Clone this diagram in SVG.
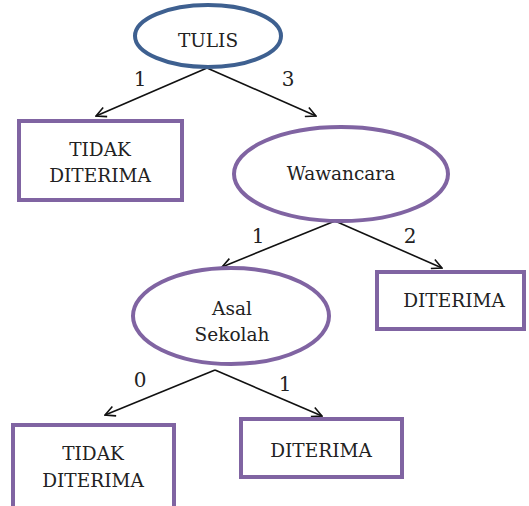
<svg xmlns="http://www.w3.org/2000/svg" width="529" height="506" viewBox="0 0 529 506">
<style>
.t{font-family:'DejaVu Serif',serif;font-size:18.5px;fill:#222;text-anchor:middle}
.l{font-size:20px}
.n{fill:#fff;stroke:#8064a2;stroke-width:4}
.e{stroke:#111;stroke-width:1.6;fill:none;marker-end:url(#ah)}
</style>
<defs>
<marker id="ah" viewBox="0 0 12 12" refX="11" refY="6" markerWidth="12" markerHeight="12" markerUnits="userSpaceOnUse" orient="auto">
<path d="M1 1 L11 6 L1 11" fill="none" stroke="#111" stroke-width="1.6"/>
</marker>
</defs>
<rect width="529" height="506" fill="#fff"/>
<g id="connectors">
<line class="e" x1="207" y1="68" x2="96" y2="116"/>
<line class="e" x1="207" y1="68" x2="316" y2="116"/>
<line class="e" x1="335" y1="221" x2="222" y2="267"/>
<line class="e" x1="335" y1="221" x2="442" y2="268"/>
<line class="e" x1="215" y1="370" x2="105" y2="415"/>
<line class="e" x1="215" y1="370" x2="322" y2="416"/>
<text class="t l" x="140" y="86">1</text>
<text class="t l" x="288" y="86">3</text>
<text class="t l" x="258" y="243">1</text>
<text class="t l" x="410" y="243">2</text>
<text class="t l" x="140" y="387">0</text>
<text class="t l" x="285" y="391">1</text>
</g>
<g id="tulis">
<ellipse cx="208" cy="36" rx="73" ry="31" fill="#fff" stroke="#3e6090" stroke-width="4"/>
<text class="t" x="208" y="47">TULIS</text>
</g>
<g id="tidak1">
<rect class="n" x="19" y="121" width="163" height="79"/>
<text class="t" x="100" y="156">TIDAK</text>
<text class="t" x="100" y="182">DITERIMA</text>
</g>
<g id="wawancara">
<ellipse class="n" cx="341" cy="174" rx="107" ry="47"/>
<text class="t" x="341" y="180">Wawancara</text>
</g>
<g id="diterima1">
<rect class="n" x="377" y="272" width="147" height="57"/>
<text class="t" x="454" y="307">DITERIMA</text>
</g>
<g id="asal">
<ellipse class="n" cx="231" cy="316" rx="98" ry="48"/>
<text class="t" x="232" y="315">Asal</text>
<text class="t" x="232" y="341">Sekolah</text>
</g>
<g id="tidak2">
<rect class="n" x="13" y="425" width="161" height="85"/>
<text class="t" x="93" y="460">TIDAK</text>
<text class="t" x="93" y="487">DITERIMA</text>
</g>
<g id="diterima2">
<rect class="n" x="241" y="419" width="161" height="58"/>
<text class="t" x="321" y="457">DITERIMA</text>
</g>
</svg>
